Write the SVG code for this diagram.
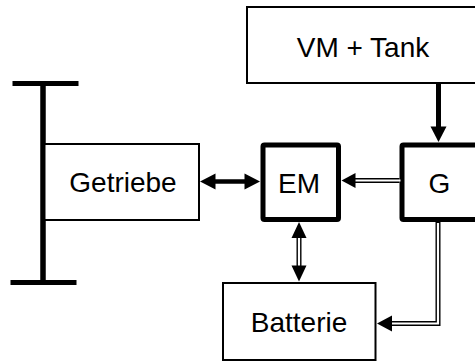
<svg xmlns="http://www.w3.org/2000/svg" width="475" height="363" viewBox="0 0 475 363">
<style>
.thin{fill:#fff;stroke:#000;stroke-width:2}
.thick{fill:#fff;stroke:#000;stroke-width:5;stroke-linejoin:round}
.bar{stroke:#000;stroke-width:5;fill:none}
.lbl{font-family:"Liberation Sans",Arial,sans-serif;font-size:28px;fill:#000;text-anchor:middle}
.solid{stroke:#000;stroke-width:4.5;fill:none}
.dblo{stroke:#000;stroke-width:5;fill:none}
.dbli{stroke:#fff;stroke-width:2.2;fill:none}
.head{fill:#000}
</style>
<g id="axle">
<line class="bar" x1="12.5" y1="83.5" x2="78.5" y2="83.5"/>
<line class="bar" x1="10.5" y1="282.5" x2="76.5" y2="282.5"/>
<line class="bar" x1="43" y1="81" x2="43" y2="285"/>
</g>
<g id="getriebe">
<rect class="thin" x="44" y="144" width="155" height="76"/>
<line class="bar" x1="43" y1="81" x2="43" y2="285"/>
<text class="lbl" x="123" y="192">Getriebe</text>
</g>
<g id="vm-tank">
<rect class="thin" x="247" y="7" width="240" height="76"/>
<text class="lbl" x="363" y="57">VM + Tank</text>
</g>
<g id="em">
<rect class="thick" x="263" y="145" width="75.5" height="74.5" rx="1.5"/>
<text class="lbl" x="299" y="193">EM</text>
</g>
<g id="g">
<rect class="thick" x="402" y="145" width="80" height="74.5" rx="1.5"/>
<text class="lbl" x="439.5" y="193">G</text>
</g>
<g id="batterie">
<rect class="thin" x="223" y="283" width="152.5" height="77"/>
<text class="lbl" x="299" y="332">Batterie</text>
</g>
<g id="connectors">
<line class="solid" x1="212" y1="181.5" x2="248" y2="181.5"/>
<polygon class="head" points="200,181.5 215.5,173.5 215.5,189.5"/>
<polygon class="head" points="260,181.5 244.5,173.5 244.5,189.5"/>
<line class="solid" x1="438.5" y1="83" x2="438.5" y2="130" style="stroke-width:5"/>
<polygon class="head" points="438.5,142 430.5,126.5 446.5,126.5"/>
<path class="dblo" d="M399.5 180.5 H353"/>
<path class="dbli" d="M400.5 180.5 H353"/>
<polygon class="head" points="341.5,180.5 355.5,173 355.5,188"/>
<path class="dblo" d="M299 236 V268"/>
<path class="dbli" d="M299 236 V268"/>
<polygon class="head" points="299,222 291.5,238 306.5,238"/>
<polygon class="head" points="299,281.5 291.5,265.5 306.5,265.5"/>
<path class="dblo" d="M438 221.5 V323.5 H389"/>
<path class="dbli" d="M438 223 V323.5 H389"/>
<polygon class="head" points="377,323.5 392,315.5 392,331.5"/>
</g>
</svg>
